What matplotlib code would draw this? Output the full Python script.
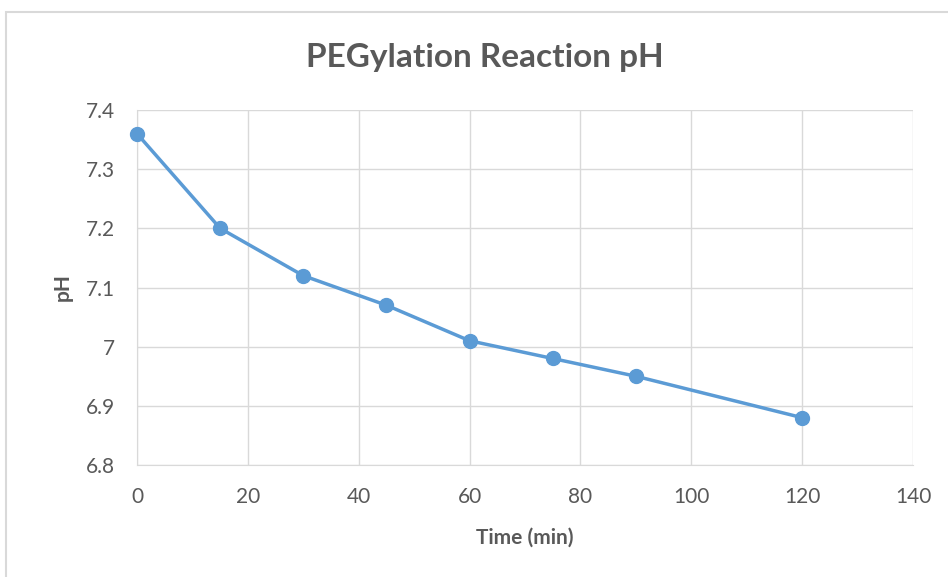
import matplotlib.pyplot as plt
from matplotlib.patches import Rectangle

time_min = [0, 15, 30, 45, 60, 75, 90, 120]
ph = [7.36, 7.20, 7.12, 7.07, 7.01, 6.98, 6.95, 6.88]
x_ticks = [0, 20, 40, 60, 80, 100, 120, 140]
y_ticks = [6.8, 6.9, 7.0, 7.1, 7.2, 7.3, 7.4]
y_labels = ["6.8", "6.9", "7", "7.1", "7.2", "7.3", "7.4"]

BLUE = "#5B9BD5"
GRID = "#D9D9D9"
TEXT = "#595959"

plt.rcParams["font.family"] = ["Lato", "DejaVu Sans"]

fig = plt.figure(figsize=(9.48, 5.77), dpi=100)
fig.patches.append(Rectangle((6 / 948, -0.05), 1.0, 1 - 12 / 577 + 0.05,
                             transform=fig.transFigure, fill=False,
                             edgecolor="#D9D9D9", linewidth=1.5))

ax = fig.add_axes([137 / 948, 1 - 465 / 577, (913 - 137) / 948, (465 - 110) / 577])
ax.plot(time_min, ph, color=BLUE, linewidth=2.5, marker="o", markersize=10,
        clip_on=False, zorder=3)

ax.set_xlim(0, 140)
ax.set_ylim(6.8, 7.4)
ax.set_xticks(x_ticks)
ax.set_yticks(y_ticks)
ax.set_yticklabels(y_labels)
ax.grid(True, color=GRID, linewidth=1)
ax.set_axisbelow(True)
for side in ["top", "right"]:
    ax.spines[side].set_visible(False)
ax.spines["left"].set_color(GRID)
ax.spines["bottom"].set_color(GRID)
ax.tick_params(length=0, labelsize=15, colors=TEXT)
ax.tick_params(axis="x", pad=16)
ax.tick_params(axis="y", pad=16)

ax.set_xlabel("Time (min)", fontsize=15, fontweight="bold", color=TEXT, labelpad=15)
ax.set_ylabel("pH", fontsize=15, fontweight="bold", color=TEXT, labelpad=9)
fig.text(485 / 948, 1 - 58 / 577, "PEGylation Reaction pH", ha="center", va="center",
         fontsize=24, fontweight="bold", color=TEXT)

fig.savefig("out.png", dpi=100)
